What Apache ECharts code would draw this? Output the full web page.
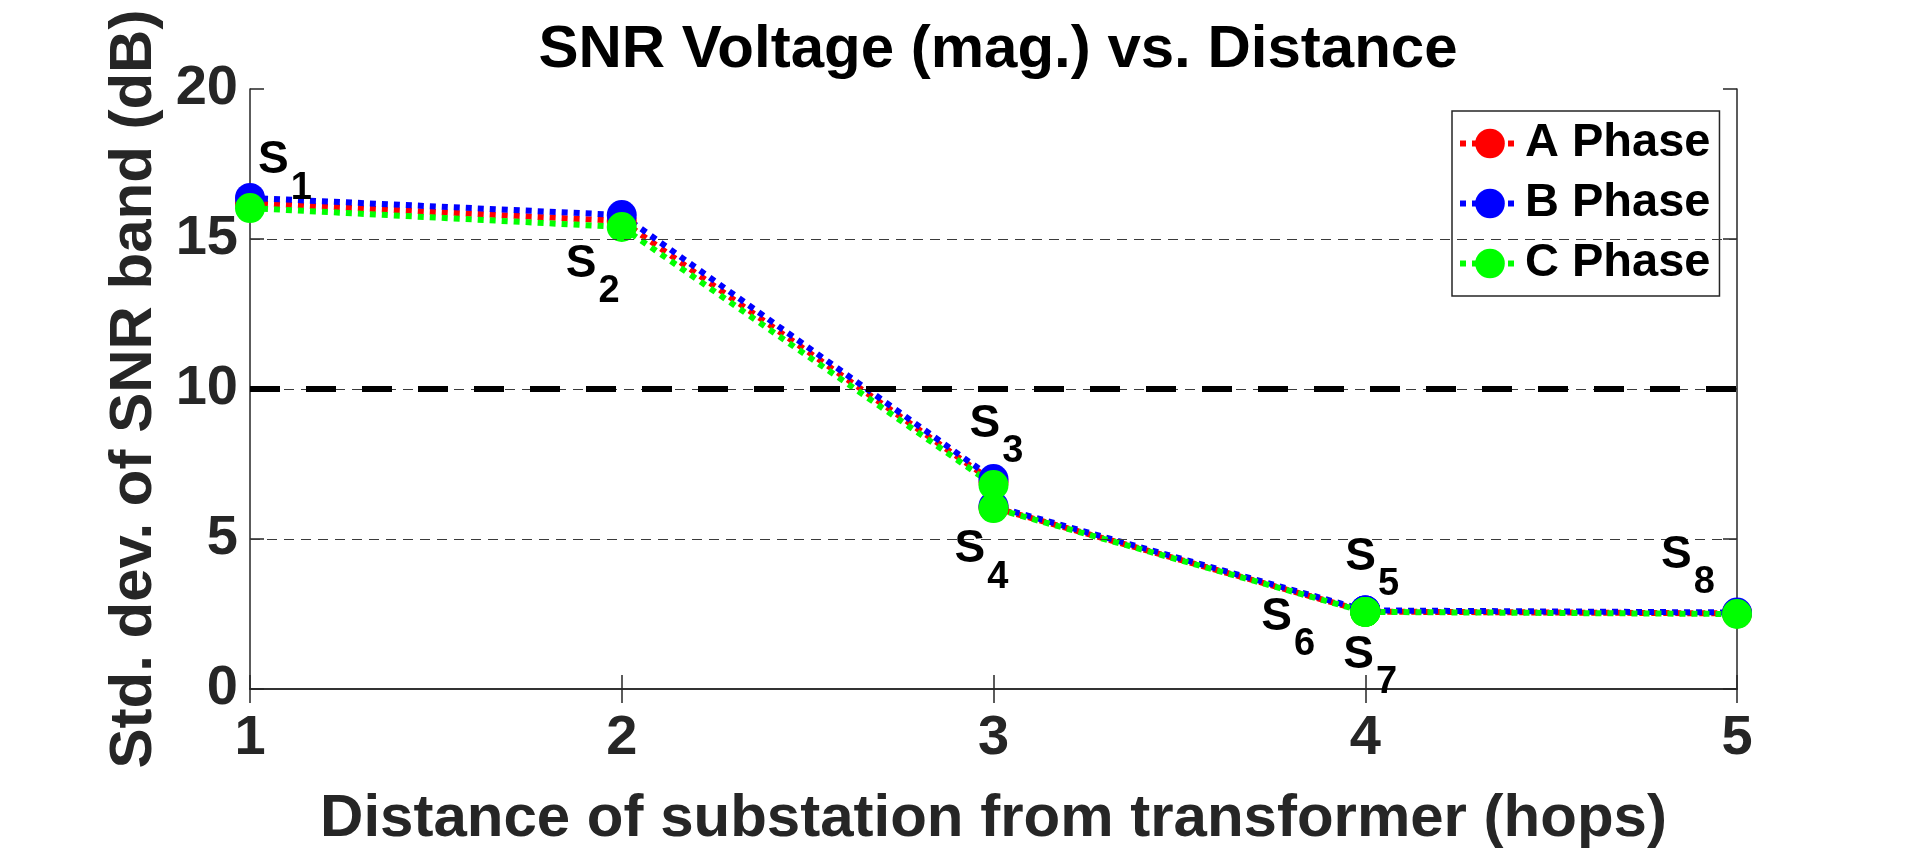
<!DOCTYPE html>
<html>
<head>
<meta charset="utf-8">
<title>SNR Voltage (mag.) vs. Distance</title>
<script src="https://cdn.jsdelivr.net/npm/echarts@6/dist/echarts.min.js"></script>
<style>
  html, body { margin: 0; padding: 0; background: #fff; }
  #chart { width: 1920px; height: 858px; }
</style>
</head>
<body>
<div id="chart"></div>
<script>
// substations S1..S8 and their distance from the transformer
var stations = ['1', '2', '3', '4', '5', '6', '7', '8'];
var hops = [1, 2, 3, 3, 4, 4, 4, 5];
// std. dev. of SNR band (dB)
var phaseA = [16.2, 15.6, 6.9, 6.05, 2.58, 2.58, 2.58, 2.52];
var phaseB = [16.37, 15.8, 7.0, 6.1, 2.62, 2.62, 2.62, 2.55];
var phaseC = [16.03, 15.4, 6.8, 6.03, 2.57, 2.57, 2.57, 2.5];
var threshold = 10;
var xTicks = [1, 2, 3, 4, 5];
var yTicks = [0, 5, 10, 15, 20];

// where each S label sits relative to its point (px)
var labelOffsets = [[9, -70], [-55, 15], [-23, -83], [-38, 19], [-19, -77], [-103, -17], [-21, 21], [-75, -81]];

var font = 'Liberation Sans, Arial, Helvetica, sans-serif';
var axisColor = '#262626';

function pairs(ys) {
	return hops.map(function(x, i) { return [x, ys[i]]; });
}

function phaseSeries(name, color, ys) {
	return {
		name: name,
		type: 'line',
		data: pairs(ys),
		symbol: 'circle',
		symbolSize: 30,
		showAllSymbol: true,
		itemStyle: { color: color },
		lineStyle: { color: color, width: 6, type: [6, 6], cap: 'butt' },
		emphasis: { disabled: true },
		animation: false
	};
}

var chart = echarts.init(document.getElementById('chart'));

// inner grid lines (the box edges at 0 and 20 stay solid)
var gridSeries = {
	type: 'line',
	data: [],
	silent: true,
	z: 1,
	markLine: {
		silent: true,
		symbol: 'none',
		label: { show: false },
		lineStyle: { color: '#3a3a3a', width: 1, type: [10, 7] },
		data: yTicks.slice(1, -1).map(function(v) { return { yAxis: v }; })
	}
};

var series = [
	gridSeries,
	phaseSeries('A Phase', '#ff0000', phaseA),
	phaseSeries('B Phase', '#0000ff', phaseB),
	phaseSeries('C Phase', '#00ff00', phaseC)
];

// thick dashed threshold line at 10 dB
series[1].markLine = {
	silent: true,
	symbol: 'none',
	label: { show: false },
	lineStyle: { color: '#000', width: 6, type: [30, 26] },
	data: [{ yAxis: threshold }]
};

// S_n labels
series.push({
	type: 'scatter',
	data: pairs(phaseC).map(function(p, i) {
		return {
			value: p,
			label: { position: labelOffsets[i], formatter: '{s|S}{sub|' + stations[i] + '}' }
		};
	}),
	symbolSize: 2,
	itemStyle: { color: 'rgba(0,0,0,0)', opacity: 1 },
	z: 10,
	silent: true,
	label: {
		show: true,
		opacity: 1,
		align: 'left',
		verticalAlign: 'top',
		color: '#000',
		fontFamily: font,
		fontWeight: 'bold',
		fontSize: 46,
		rich: {
			s: { fontFamily: font, fontWeight: 'bold', fontSize: 46, lineHeight: 46, color: '#000', verticalAlign: 'top' },
			sub: { fontFamily: font, fontWeight: 'bold', fontSize: 38, lineHeight: 38, color: '#000', verticalAlign: 'top', padding: [32, 0, 0, 2] }
		}
	}
});

var option = {
	backgroundColor: '#fff',
	animation: false,
	title: {
		text: 'SNR Voltage (mag.) vs. Distance',
		left: 993,
		top: 15,
		textAlign: 'center',
		textStyle: { fontFamily: font, fontWeight: 'bold', fontSize: 60, color: '#000' }
	},
	legend: {
		data: ['A Phase', 'B Phase', 'C Phase'],
		orient: 'vertical',
		left: 1452,
		top: 111,
		padding: [9, 9, 9, 5],
		itemWidth: 60,
		itemHeight: 37,
		itemGap: 13,
		backgroundColor: '#fff',
		borderColor: axisColor,
		borderWidth: 1.5,
		borderRadius: 0,
		lineStyle: { width: 6, type: [6, 6], cap: 'butt' },
		textStyle: { fontFamily: font, fontWeight: 'bold', fontSize: 47, lineHeight: 47, color: '#000' }
	},
	grid: { left: 250, right: 183, top: 89, bottom: 169, containLabel: false },
	xAxis: [{
		type: 'value',
		min: xTicks[0],
		max: xTicks[xTicks.length - 1],
		interval: 1,
		name: 'Distance of substation from transformer (hops)',
		nameLocation: 'middle',
		nameGap: 100,
		nameTextStyle: { fontFamily: font, fontWeight: 'bold', fontSize: 60, color: axisColor },
		axisLine: { show: true, lineStyle: { color: axisColor, width: 1.5 } },
		axisTick: { show: true, inside: true, length: 14, lineStyle: { color: axisColor, width: 1.5 } },
		axisLabel: { fontFamily: font, fontWeight: 'bold', fontSize: 56, color: axisColor, margin: 22 },
		splitLine: { show: false }
	}, {
		type: 'value',
		position: 'top',
		min: xTicks[0],
		max: xTicks[xTicks.length - 1],
		interval: 1,
		axisLine: { show: true, lineStyle: { color: axisColor, width: 1.5 } },
		axisTick: { show: true, inside: true, length: 14, lineStyle: { color: axisColor, width: 1.5 } },
		axisLabel: { show: false },
		splitLine: { show: false }
	}],
	yAxis: [{
		type: 'value',
		min: yTicks[0],
		max: yTicks[yTicks.length - 1],
		interval: 5,
		name: 'Std. dev. of SNR band (dB)',
		nameLocation: 'middle',
		nameGap: 86,
		nameTextStyle: { fontFamily: font, fontWeight: 'bold', fontSize: 60, color: axisColor },
		axisLine: { show: true, lineStyle: { color: axisColor, width: 1.5 } },
		axisTick: { show: true, inside: true, length: 14, lineStyle: { color: axisColor, width: 1.5 } },
		axisLabel: { fontFamily: font, fontWeight: 'bold', fontSize: 56, color: axisColor, margin: 12 },
		splitLine: { show: false }
	}, {
		type: 'value',
		position: 'right',
		min: yTicks[0],
		max: yTicks[yTicks.length - 1],
		interval: 5,
		axisLine: { show: true, lineStyle: { color: axisColor, width: 1.5 } },
		axisTick: { show: true, inside: true, length: 14, lineStyle: { color: axisColor, width: 1.5 } },
		axisLabel: { show: false },
		splitLine: { show: false }
	}],
	series: series
};

chart.setOption(option);
</script>
</body>
</html>
